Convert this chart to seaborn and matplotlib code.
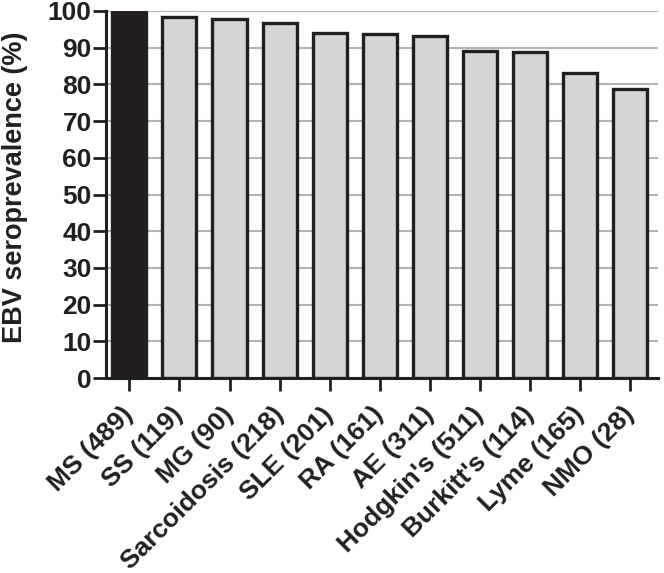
import matplotlib
matplotlib.use('Agg')
import matplotlib.pyplot as plt
import matplotlib.transforms as mtransforms
import seaborn as sns
import pandas as pd

diseases = ['MS (489)', 'SS (119)', 'MG (90)', 'Sarcoidosis (218)', 'SLE (201)', 'RA (161)',
            'AE (311)', "Hodgkin's (511)", "Burkitt's (114)", 'Lyme (165)', 'NMO (28)']
seroprevalence = [100, 98.3, 97.8, 96.8, 94.1, 93.8, 93.2, 89.2, 88.7, 83.0, 78.7]
yticks = list(range(0, 101, 10))

df = pd.DataFrame({'disease': diseases, 'prev': seroprevalence})

sns.set_style('white')
plt.rcParams['font.family'] = ['Liberation Sans', 'DejaVu Sans']
plt.rcParams['font.weight'] = 'bold'

fig = plt.figure(figsize=(6.64, 5.73), dpi=100)
ax = fig.add_axes([0.160, 0.340, 0.831, 0.641])

colors = ['#231f20'] + ['#d5d5d6'] * (len(diseases) - 1)
sns.barplot(data=df, x='disease', y='prev', hue='disease', palette=colors, legend=False,
            width=0.68, edgecolor='#231f20', linewidth=2.4, saturation=1, ax=ax, zorder=2)

ax.set_ylim(0, 100)
ax.set_xlim(-0.46, 10.55)
ax.set_yticks(yticks)
ax.yaxis.grid(True, color='#b4b4b4', linewidth=1.5, zorder=0)
ax.set_axisbelow(True)

for s in ['top', 'right']:
    ax.spines[s].set_visible(False)
for s in ['left', 'bottom']:
    ax.spines[s].set_linewidth(2.2)
    ax.spines[s].set_color('#231f20')

ax.tick_params(axis='both', direction='out', length=9.5, width=2, color='#231f20',
               labelcolor='#231f20', left=True, bottom=True, pad=2)
ax.tick_params(axis='y', labelsize=19, pad=1)
ax.set_xticks(range(len(diseases)))
ax.set_xticklabels(diseases, rotation=45, ha='right', va='top', rotation_mode='anchor',
                   fontweight='bold', fontsize=19)
shift = mtransforms.ScaledTranslation(-6 / 72, -6 / 72, fig.dpi_scale_trans)
for lbl in ax.get_xticklabels():
    lbl.set_transform(lbl.get_transform() + shift)
for lbl in ax.get_yticklabels():
    lbl.set_fontweight('bold')
ax.set_xlabel('')
ax.set_ylabel('EBV seroprevalence (%)', fontsize=19.5, fontweight='bold', color='#231f20')
ax.yaxis.set_label_coords(-0.142, 0.52)

fig.savefig('out.png', dpi=100)
